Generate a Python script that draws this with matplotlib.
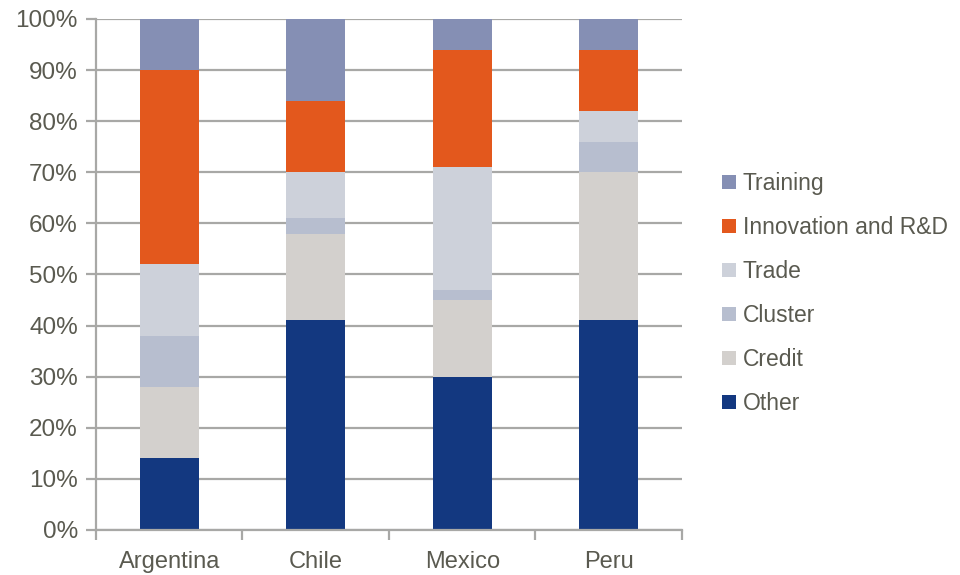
import matplotlib
matplotlib.use("Agg")
import matplotlib.pyplot as plt
from matplotlib.patches import Patch
from matplotlib.ticker import FixedLocator, PercentFormatter

countries = ["Argentina", "Chile", "Mexico", "Peru"]
other = [14, 41, 30, 41]
credit = [14, 17, 15, 29]
cluster = [10, 3, 2, 6]
trade = [14, 9, 24, 6]
innovation = [38, 14, 23, 12]
training = [10, 16, 6, 6]

series = [
    ("Other", other, "#133880"),
    ("Credit", credit, "#D3D0CD"),
    ("Cluster", cluster, "#B7BECF"),
    ("Trade", trade, "#CDD1DA"),
    ("Innovation and R&D", innovation, "#E3581D"),
    ("Training", training, "#858FB4"),
]

text_color = "#5A5A50"
grid_color = "#A8A8A6"
plt.rcParams["font.family"] = ["Liberation Sans", "DejaVu Sans"]

fig = plt.figure(figsize=(9.6, 5.75), dpi=100)
ax = fig.add_axes([0.1, 0.0783, 0.6104, 0.8887])

x = range(len(countries))
bottom = [0] * len(countries)
for name, vals, color in series:
    ax.bar(x, vals, bottom=bottom, width=0.4, color=color, label=name, zorder=3)
    bottom = [b + v for b, v in zip(bottom, vals)]

ax.set_xlim(-0.5, len(countries) - 0.5)
ax.set_ylim(0, 100)
ax.yaxis.set_major_locator(FixedLocator(range(0, 101, 10)))
ax.yaxis.set_major_formatter(PercentFormatter(decimals=0))
ax.grid(axis="y", color=grid_color, linewidth=1.6, zorder=0)

ax.set_xticks([i - 0.5 for i in range(len(countries) + 1)])
ax.set_xticklabels([])
ax.set_xticks(list(x), minor=True)
ax.set_xticklabels(countries, minor=True)
ax.tick_params(axis="x", which="major", length=7, width=1.6, color=grid_color)
ax.tick_params(axis="x", which="minor", length=0, pad=15, labelsize=17, labelcolor=text_color)
ax.tick_params(axis="y", length=7, width=1.6, color=grid_color, labelsize=17.5,
               labelcolor=text_color, pad=6)

for side in ["top", "right"]:
    ax.spines[side].set_visible(False)
for side in ["left", "bottom"]:
    ax.spines[side].set_color(grid_color)
    ax.spines[side].set_linewidth(1.6)
ax.spines["bottom"].set_zorder(4)

handles = [Patch(facecolor=c, label=n) for n, _, c in reversed(series)]
leg = fig.legend(handles=handles, loc="upper left", bbox_to_anchor=(0.743, 0.717),
                 frameon=False, fontsize=16.5, handlelength=0.58, handleheight=0.58,
                 handletextpad=0.3, labelspacing=0.92, borderaxespad=0)
for t in leg.get_texts():
    t.set_color(text_color)

fig.savefig("out.png", dpi=100)
